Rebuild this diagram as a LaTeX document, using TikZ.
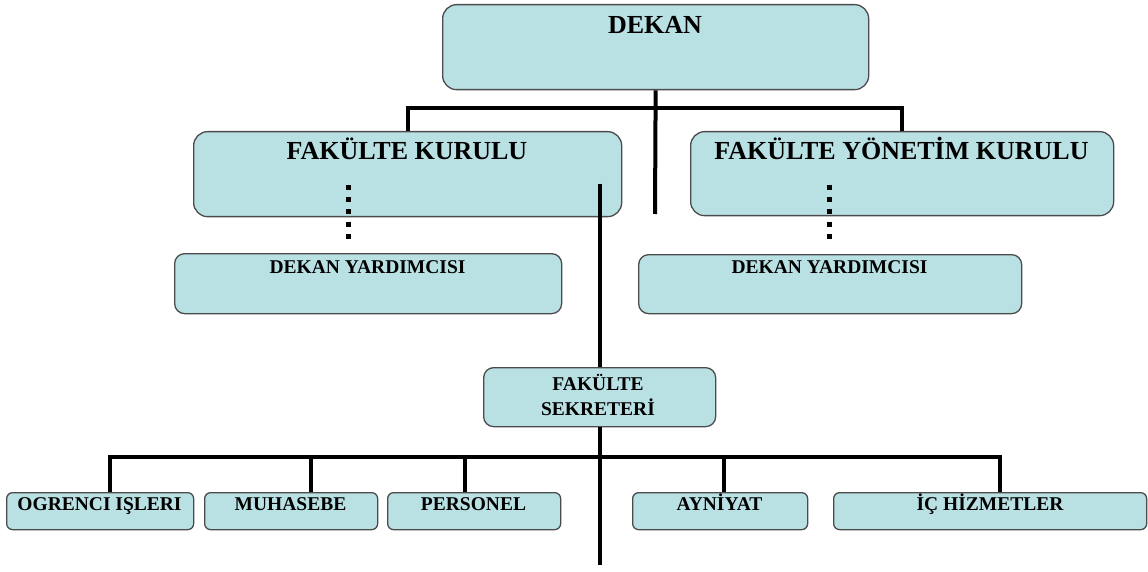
\documentclass[tikz,border=0pt]{standalone}
\usepackage{fontspec}
\setmainfont{Liberation Serif}
\definecolor{boxfill}{RGB}{185,224,227}
\definecolor{boxline}{RGB}{75,75,75}
\begin{document}
\begin{tikzpicture}[x=1pt,y=-1pt,
  box/.style={draw=boxline, fill=boxfill, line width=1.3pt, rounded corners=#1, anchor=north west, inner sep=0pt},
  box/.default=8pt,
  big/.style={font=\fontsize{26}{30}\selectfont\bfseries, anchor=base, inner sep=0pt},
  small/.style={font=\fontsize{19.5}{24}\selectfont\bfseries, anchor=base, inner sep=0pt},
  conn/.style={line width=4pt},
  dots/.style={line width=5pt, dash pattern=on 5pt off 7.2pt}]
\useasboundingbox (0,0) rectangle (1148,572);
% upper boxes
\node[box=14pt, minimum width=426pt, minimum height=85pt] (dekan) at (442,4) {};
\node[box=14pt, minimum width=428pt, minimum height=85pt] (fk) at (193,131) {};
\node[box=14pt, minimum width=423pt, minimum height=84pt] (fyk) at (690,131) {};
\node[box=10pt, minimum width=387pt, minimum height=60pt] (dy1) at (174,253) {};
\node[box=10pt, minimum width=383pt, minimum height=59pt] (dy2) at (638,254) {};
% upper connectors
\coordinate (hub) at (655,108);
\coordinate (stub) at (655,214);
\draw[conn] (dekan.south) -- (stub);
\draw[conn] (fk.north) |- (hub) -| (fyk.north);
% dotted links
\coordinate (d1a) at (348,185);
\coordinate (d1b) at (348,241);
\coordinate (d2a) at (829,185);
\coordinate (d2b) at (829,241);
\draw[dots] (d1a) -- (d1b);
\draw[dots] (d2a) -- (d2b);
% secretary
\coordinate (fkdrop) at (600,184);
\coordinate (bottomend) at (600,565);
\node[box=10pt, minimum width=232pt, minimum height=59pt] (sek) at (483,367) {};
\draw[conn] (fkdrop) -- (fkdrop |- sek.north);
\draw[conn] (fkdrop |- sek.south) -- (bottomend);
% bottom boxes
\node[box=6pt, minimum width=187pt, minimum height=37pt] (ogr) at (6,492) {};
\node[box=6pt, minimum width=173pt, minimum height=37pt] (muh) at (204,492) {};
\node[box=6pt, minimum width=173pt, minimum height=37pt] (per) at (387,492) {};
\node[box=6pt, minimum width=175pt, minimum height=37pt] (ayn) at (632,492) {};
\node[box=6pt, minimum width=313pt, minimum height=37pt] (ih) at (833,492) {};
% bottom connectors
\draw[conn] ([xshift=10pt]ogr.north) -- ++(0,-35) -| ([xshift=9.5pt]ih.north);
\draw[conn] ([xshift=20pt]muh.north) -- ++(0,-35);
\draw[conn] ([xshift=-9.5pt]per.north) -- ++(0,-35);
\draw[conn] ([xshift=3.5pt]ayn.north) -- ++(0,-35);
% texts
\node[big] (dekant) at (655,34) {DEKAN};
\node[big] (fkt) at (407,160) {FAKÜLTE KURULU};
\node[big] (fykt) at (901.5,160) {FAKÜLTE YÖNETİM KURULU};
\node[small] (dy1t) at (367.5,273) {DEKAN YARDIMCISI};
\node[small] (dy2t) at (829.5,273) {DEKAN YARDIMCISI};
\node[small] (sekt1) at (598,390) {FAKÜLTE};
\node[small] (sekt2) at (598,415) {SEKRETERİ};
\node[small] (ogrt) at (99.5,510) {OGRENCI IŞLERI};
\node[small] (muht) at (290.5,510) {MUHASEBE};
\node[small] (pert) at (473.5,510) {PERSONEL};
\node[small] (aynt) at (719.5,510) {AYNİYAT};
\node[small] (iht) at (990,510) {İÇ HİZMETLER};
\end{tikzpicture}
\end{document}
